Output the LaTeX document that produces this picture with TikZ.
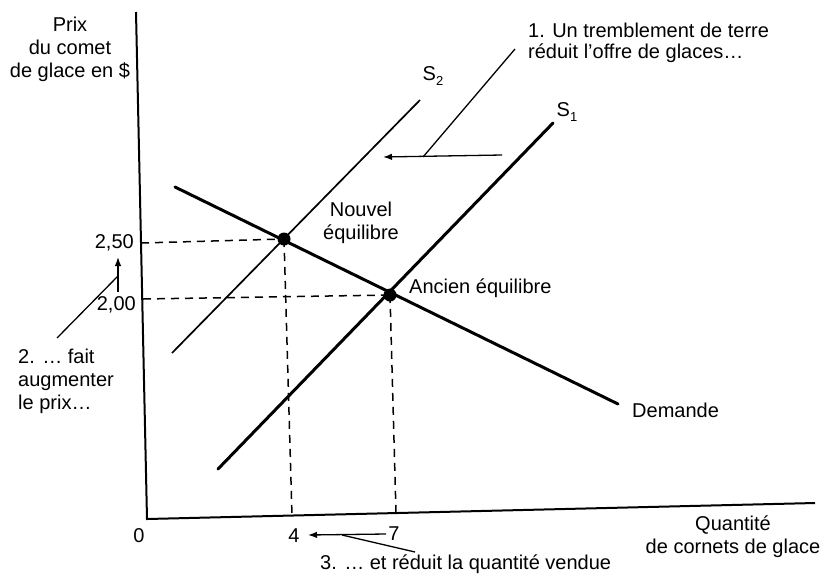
\documentclass[tikz,border=0pt]{standalone}
\usepackage{fontspec}
\setmainfont{Liberation Sans}
\usetikzlibrary{arrows.meta}
\begin{document}
\begin{tikzpicture}[x=1pt,y=-1pt,
  lbl/.style={font=\fontsize{20}{23}\selectfont, inner sep=0pt},
  demandline/.style={line width=3pt, line cap=round},
  supply1/.style={line width=3pt, line cap=round},
  supply2/.style={line width=1.7pt},
  axisline/.style={line width=2pt},
  guide/.style={line width=1.5pt, dash pattern=on 8pt off 6pt},
  note/.style={line width=1.3pt},
  notearrow/.style={line width=1.3pt, -{Latex[length=9pt,width=6.5pt]}},
  dot/.style={circle, fill=black, inner sep=0pt, minimum size=13pt}]
\useasboundingbox (0,0) rectangle (826,584);
\fill[white] (0,0) rectangle (826,584);
% axes
\coordinate (ytop) at (136,12);
\coordinate (origin) at (147,519);
\coordinate (xend) at (815,503);
\draw[axisline] (ytop) -- (origin) -- (xend);
% curves
\coordinate (d1) at (175,187);
\coordinate (d2) at (618,404);
\coordinate (s1a) at (218,469);
\coordinate (s1b) at (553,123);
\coordinate (s2a) at (172,353);
\coordinate (s2b) at (420,100);
\draw[demandline] (d1) -- (d2);
\draw[supply1] (s1a) -- (s1b);
\draw[supply2] (s2a) -- (s2b);
% equilibria
\node[dot] (neweq) at (284,239) {};
\node[dot] (oldeq) at (390,295) {};
% guide lines
\coordinate (y250) at (141,243);
\coordinate (y200) at (143,299);
\coordinate (x4) at (292,516);
\coordinate (x7) at (396,513);
\draw[guide] (y250) -- (neweq.center);
\draw[guide] (y200) -- (oldeq.center);
\draw[guide] (neweq.center) -- (x4);
\draw[guide] (oldeq.center) -- (x7);
% axis labels
\node[lbl, align=center, anchor=north] (ylab) at (70,17) {Prix\\du comet\\de glace en \$};
\node[lbl, align=center, anchor=north] (xlab) at (733,516) {Quantit\'e\\de cornets de glace};
\node[lbl, anchor=east] (p250) at (134,243) {2,50};
\node[lbl, anchor=east] (p200) at (136,305) {2,00};
\node[lbl] (q0) at (139,536) {0};
\node[lbl] (q4) at (294,536) {4};
\node[lbl] (q7) at (394,534) {7};
% curve labels
\node[lbl] (s2lab) at (433,76) {S\raisebox{-0.45ex}{\fontsize{13}{13}\selectfont 2}};
\node[lbl] (s1lab) at (567,112) {S\raisebox{-0.45ex}{\fontsize{13}{13}\selectfont 1}};
\node[lbl, anchor=base west] (demlab) at (632,417) {Demande};
\node[lbl, align=center, anchor=north] (newlab) at (361,202) {Nouvel\\\'equilibre};
\node[lbl, anchor=base west] (oldlab) at (409,293) {Ancien \'equilibre};
% annotation 1
\node[lbl, align=left, anchor=north west, font=\fontsize{20}{21}\selectfont] (note1) at (528,23) {1. Un tremblement de terre\\r\'eduit l'offre de glaces\ldots};
\coordinate (n1a) at (515,49);
\coordinate (n1b) at (423,157);
\coordinate (n1r) at (502,155);
\coordinate (n1l) at (383,157);
\draw[note] (n1a) -- (n1b);
\draw[notearrow] (n1r) -- (n1l);
% annotation 2
\node[lbl, align=left, anchor=north west] (note2) at (18,349) {2. \ldots\ fait\\augmenter\\le prix\ldots};
\coordinate (n2a) at (57,338);
\coordinate (n2b) at (118,276);
\coordinate (n2bot) at (118,292);
\coordinate (n2top) at (118,257);
\draw[note] (n2a) -- (n2b);
\draw[notearrow] (n2bot) -- (n2top);
% annotation 3
\node[lbl, anchor=west] (note3) at (320,564) {3. \ldots\ et r\'eduit la quantit\'e vendue};
\coordinate (n3r) at (386,534);
\coordinate (n3l) at (308,535);
\coordinate (n3a) at (342,535);
\coordinate (n3b) at (415,552);
\draw[notearrow] (n3r) -- (n3l);
\draw[note] (n3a) -- (n3b);
\end{tikzpicture}
\end{document}
